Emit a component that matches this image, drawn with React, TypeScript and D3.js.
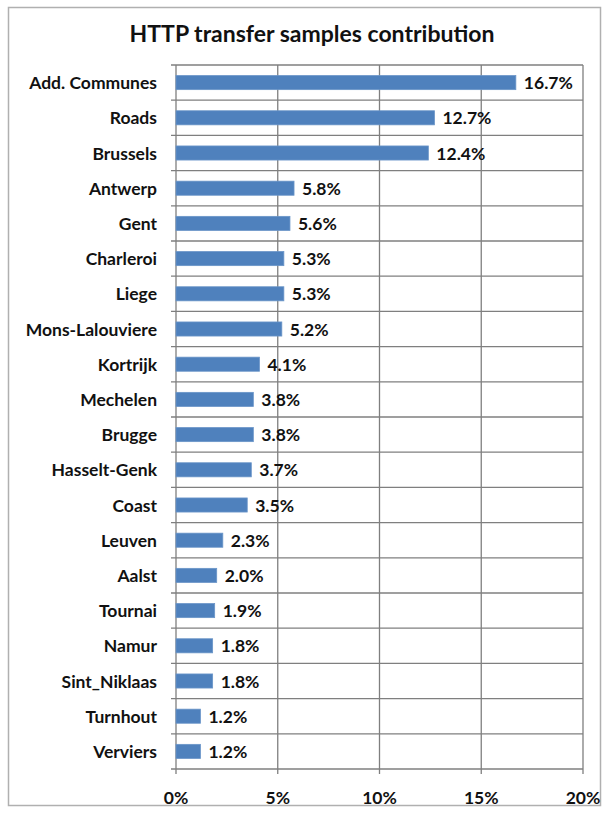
import React from 'react';
import { scaleLinear, scaleBand } from 'd3';

const categories = [
    'Add. Communes', 'Roads', 'Brussels', 'Antwerp', 'Gent', 'Charleroi', 'Liege',
    'Mons-Lalouviere', 'Kortrijk', 'Mechelen', 'Brugge', 'Hasselt-Genk', 'Coast',
    'Leuven', 'Aalst', 'Tournai', 'Namur', 'Sint_Niklaas', 'Turnhout', 'Verviers'
];
const shares = [
    16.7, 12.7, 12.4, 5.8, 5.6, 5.3, 5.3,
    5.2, 4.1, 3.8, 3.8, 3.7, 3.5,
    2.3, 2.0, 1.9, 1.8, 1.8, 1.2, 1.2
];
const xTicks = [0, 5, 10, 15, 20];

const width = 607;
const height = 813;
const plot = { left: 176, right: 583, top: 65, bottom: 769 };
const font = 'Lato, "Open Sans", sans-serif';
const fs = 17.5;

export default function App() {
    const x = scaleLinear().domain([0, 20]).range([plot.left, plot.right]);
    const y = scaleBand<string>().domain(categories).range([plot.top, plot.bottom]).paddingInner(0.6).paddingOuter(0.3);
    const band = (plot.bottom - plot.top) / categories.length;

    return (
        <svg width={width} height={height} style={{ position: 'absolute', left: 0, top: 0, background: '#fff' }}>
            <rect x={8.5} y={7.5} width={592} height={798} fill="#fff" stroke="#b0b0b0" strokeWidth={1.5} />
            <text x={312} y={42} textAnchor="middle" fontFamily={font} fontWeight="bold" fontSize={23} fill="#111">
                HTTP transfer samples contribution
            </text>

            {/* vertical grid */}
            {xTicks.map(t => (
                <line key={'v' + t} x1={x(t)} x2={x(t)} y1={plot.top} y2={plot.bottom + 5} stroke="#7f7f7f" strokeWidth={1.3} />
            ))}
            {/* horizontal separators */}
            {categories.map((c, i) => (
                <line key={'h' + c} x1={plot.left - 5} x2={plot.right} y1={plot.top + i * band} y2={plot.top + i * band} stroke="#7f7f7f" strokeWidth={1.3} />
            ))}
            <line x1={plot.left - 5} x2={plot.right} y1={plot.bottom} y2={plot.bottom} stroke="#7f7f7f" strokeWidth={1.3} />

            {categories.map((c, i) => (
                <g key={c}>
                    <rect x={x(0)} y={y(c)} width={x(shares[i]) - x(0)} height={y.bandwidth()} fill="#4f81bd" stroke="#6a95c8" strokeWidth={0.8} />
                    <text x={x(shares[i]) + 8} y={(y(c) ?? 0) + y.bandwidth() / 2} dominantBaseline="central"
                        fontFamily={font} fontWeight="bold" fontSize={fs} fill="#111">
                        {shares[i].toFixed(1)}%
                    </text>
                    <text x={157} y={(y(c) ?? 0) + y.bandwidth() / 2} dominantBaseline="central" textAnchor="end"
                        fontFamily={font} fontWeight="bold" fontSize={fs} fill="#111">
                        {c}
                    </text>
                </g>
            ))}

            {xTicks.map(t => (
                <text key={'t' + t} x={x(t)} y={797} dominantBaseline="central" textAnchor="middle"
                    fontFamily={font} fontWeight="bold" fontSize={fs} fill="#111">
                    {t}%
                </text>
            ))}
        </svg>
    );
}
